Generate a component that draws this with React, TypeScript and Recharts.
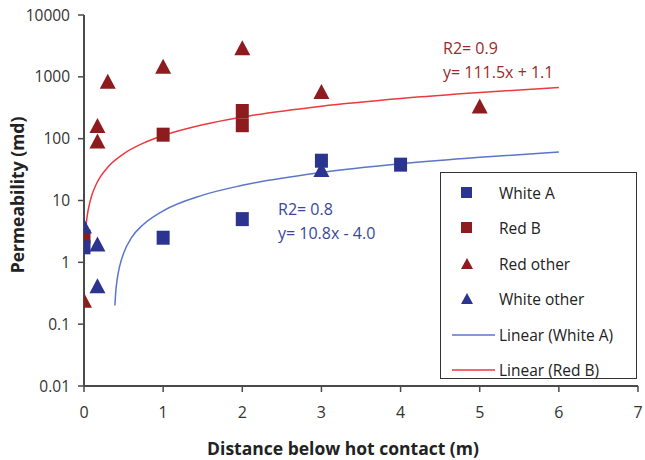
import {
    ComposedChart,
    Scatter,
    Line,
    XAxis,
    YAxis,
} from "recharts";

// measured points (distance m, permeability md)
const whiteAX = [0, 1, 2, 3, 4];
const whiteAY = [1.75, 2.5, 5, 44, 38];
const redBX = [0, 1, 2, 2];
const redBY = [2.6, 116, 165, 280];
const redOtherX = [0, 0.17, 0.17, 0.3, 1, 2, 3, 5];
const redOtherY = [0.24, 160, 90, 830, 1450, 2900, 570, 330];
const whiteOtherX = [0, 0.17, 0.17, 3];
const whiteOtherY = [3.8, 1.95, 0.41, 31];

// trendlines
const whiteFitX = [0.39, 0.4, 0.42, 0.45, 0.5, 0.6, 0.75, 1, 1.5, 2, 3, 4, 5, 6];
const whiteFitY = [0.2, 0.32, 0.54, 0.86, 1.4, 2.5, 4.1, 6.8, 12.2, 17.6, 28.4, 39.2, 50, 60.8];
const redFitX = [0, 0.01, 0.02, 0.04, 0.07, 0.1, 0.15, 0.2, 0.3, 0.5, 0.75, 1, 1.5, 2, 3, 4, 5, 6];
const redFitY = [1.1, 2.2, 3.3, 5.6, 8.9, 12.3, 17.8, 23.4, 34.6, 56.9, 84.7, 112.6, 168.4, 224.1, 335.6, 447.1, 558.6, 670.1];

const xTicks = [0, 1, 2, 3, 4, 5, 6, 7];
const yTicks = [0.01, 0.1, 1, 10, 100, 1000, 10000];

const toRows = (xs: number[], ys: number[]) => xs.map((x, i) => ({ x, y: ys[i] }));

const BLUE = "#2b3590";
const RED = "#8e1b1e";
const BLUE_LINE = "#5a76c6";
const RED_LINE = "#ea3a40";
const AXIS = "#4a4a4a";
const FONT = "'Open Sans', sans-serif";

const Square = (color: string) => (props: any) => {
    const { cx, cy } = props;
    if (cx == null || cy == null) return <g />;
    return <rect x={cx - 6.5} y={cy - 7} width={13} height={14} fill={color} />;
};

const Triangle = (color: string) => (props: any) => {
    const { cx, cy } = props;
    if (cx == null || cy == null) return <g />;
    return <path d={`M${cx},${cy - 8} L${cx + 8},${cy + 7} L${cx - 8},${cy + 7} Z`} fill={color} />;
};

const legendItems = [
    { label: "White A", kind: "square", color: BLUE },
    { label: "Red B", kind: "square", color: RED },
    { label: "Red other", kind: "triangle", color: RED },
    { label: "White other", kind: "triangle", color: BLUE },
    { label: "Linear (White A)", kind: "line", color: BLUE_LINE },
    { label: "Linear (Red B)", kind: "line", color: RED_LINE },
];

function LegendBox() {
    return (
        <div
            style={{
                position: "absolute",
                left: 440,
                top: 172,
                width: 197,
                height: 207,
                border: "1.5px solid #333",
                boxSizing: "border-box",
                background: "#fff",
                paddingTop: 2,
            }}
        >
            {legendItems.map((it) => (
                <div key={it.label} style={{ display: "flex", alignItems: "center", height: 35.5 }}>
                    <svg width={56} height={20} style={{ flex: "none" }}>
                        {it.kind === "square" && <rect x={20} y={4} width={11} height={11} fill={it.color} />}
                        {it.kind === "triangle" && <path d="M26,4 L32,15 L20,15 Z" fill={it.color} />}
                        {it.kind === "line" && <line x1={11} y1={10} x2={54} y2={10} stroke={it.color} strokeWidth={1.5} />}
                    </svg>
                    <span style={{ fontFamily: FONT, fontSize: 15.5, color: "#222", marginLeft: 2 }}>{it.label}</span>
                </div>
            ))}
        </div>
    );
}

export default function App() {
    return (
        <div style={{ position: "absolute", left: 0, top: 0, width: 645, height: 460, background: "#fff" }}>
            <ComposedChart
                width={645}
                height={460}
                margin={{ top: 15, right: 7, left: 24, bottom: 44 }}
            >
                <XAxis
                    type="number"
                    dataKey="x"
                    domain={[0, 7]}
                    ticks={xTicks}
                    allowDataOverflow
                    height={30}
                    tick={{ fontSize: 16, fill: "#333", fontFamily: FONT }}
                    tickSize={6}
                    tickMargin={15}
                    tickLine={{ stroke: AXIS, strokeWidth: 1.5 }}
                    axisLine={{ stroke: AXIS, strokeWidth: 2 }}
                />
                <YAxis
                    type="number"
                    dataKey="y"
                    scale="log"
                    domain={[0.01, 10000]}
                    ticks={yTicks}
                    allowDataOverflow
                    width={60}
                    tick={{ fontSize: 15.5, fill: "#333", fontFamily: FONT }}
                    tickSize={6}
                    tickMargin={8}
                    tickLine={{ stroke: AXIS, strokeWidth: 1.5 }}
                    axisLine={{ stroke: AXIS, strokeWidth: 2 }}
                />

                <Line
                    data={toRows(whiteFitX, whiteFitY)}
                    dataKey="y"
                    type="monotone"
                    stroke={BLUE_LINE}
                    strokeWidth={1.5}
                    dot={false}
                    isAnimationActive={false}
                />
                <Line
                    data={toRows(redFitX, redFitY)}
                    dataKey="y"
                    type="monotone"
                    stroke={RED_LINE}
                    strokeWidth={1.5}
                    dot={false}
                    isAnimationActive={false}
                />

                <Scatter data={toRows(redOtherX, redOtherY)} dataKey="y" shape={Triangle(RED)} isAnimationActive={false} />
                <Scatter data={toRows(redBX, redBY)} dataKey="y" shape={Square(RED)} isAnimationActive={false} />
                <Scatter data={toRows(whiteAX, whiteAY)} dataKey="y" shape={Square(BLUE)} isAnimationActive={false} />
                <Scatter data={toRows(whiteOtherX, whiteOtherY)} dataKey="y" shape={Triangle(BLUE)} isAnimationActive={false} />
            </ComposedChart>

            {/* axis titles */}
            <div
                style={{
                    position: "absolute",
                    left: 17,
                    top: 195,
                    transform: "translate(-50%, -50%) rotate(-90deg)",
                    whiteSpace: "nowrap",
                    fontFamily: FONT,
                    fontWeight: 700,
                    fontSize: 17.5,
                    lineHeight: "20px",
                    color: "#222",
                }}
            >
                Permeability (md)
            </div>
            <div
                style={{
                    position: "absolute",
                    left: 343,
                    top: 448,
                    transform: "translate(-50%, -50%)",
                    whiteSpace: "nowrap",
                    fontFamily: FONT,
                    fontWeight: 700,
                    fontSize: 17.5,
                    lineHeight: "20px",
                    color: "#222",
                }}
            >
                Distance below hot contact (m)
            </div>

            {/* trendline annotations */}
            <div style={{ position: "absolute", left: 443, top: 36, fontFamily: FONT, fontSize: 16, color: "#9a2a2c", lineHeight: "24px" }}>
                <div>R2= 0.9</div>
                <div>y= 111.5x + 1.1</div>
            </div>
            <div style={{ position: "absolute", left: 278, top: 197, fontFamily: FONT, fontSize: 16, color: "#3a469a", lineHeight: "24px" }}>
                <div>R2= 0.8</div>
                <div>y= 10.8x - 4.0</div>
            </div>

            <LegendBox />
        </div>
    );
}
